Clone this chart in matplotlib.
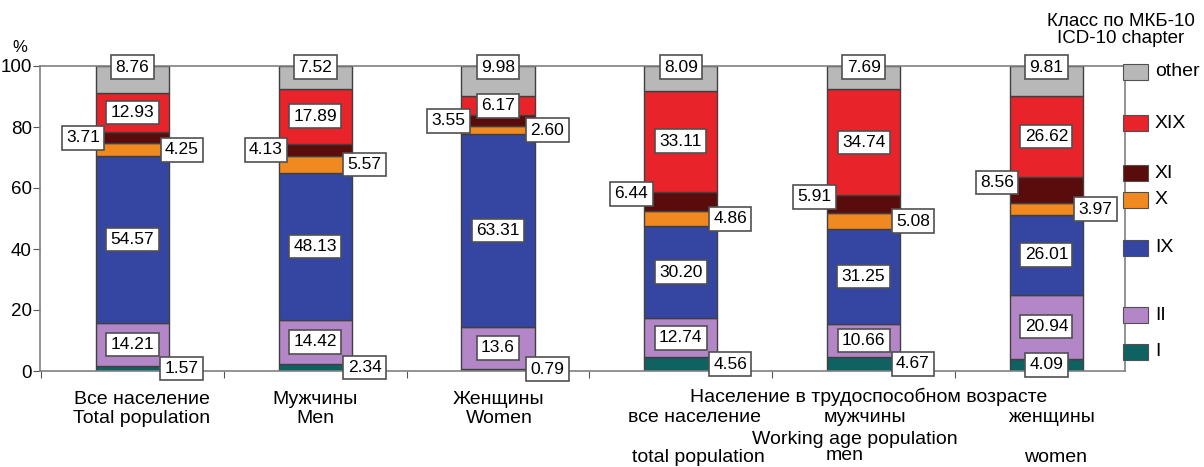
import numpy as np
import matplotlib
matplotlib.use('Agg')
import matplotlib.pyplot as plt
from matplotlib.patches import Rectangle

plt.rcParams['font.family'] = ['Liberation Sans', 'DejaVu Sans']

# shares of deaths by ICD-10 chapter, % (stack order bottom -> top)
groups = ['Total', 'Men', 'Women', 'WA total', 'WA men', 'WA women']
chapters = ['I', 'II', 'IX', 'X', 'XI', 'XIX', 'other']
val_I = ['1.57', '2.34', '0.79', '4.56', '4.67', '4.09']
val_II = ['14.21', '14.42', '13.6', '12.74', '10.66', '20.94']
val_IX = ['54.57', '48.13', '63.31', '30.20', '31.25', '26.01']
val_X = ['4.25', '5.57', '2.60', '4.86', '5.08', '3.97']
val_XI = ['3.71', '4.13', '3.55', '6.44', '5.91', '8.56']
val_XIX = ['12.93', '17.89', '6.17', '33.11', '34.74', '26.62']
val_other = ['8.76', '7.52', '9.98', '8.09', '7.69', '9.81']
series = [val_I, val_II, val_IX, val_X, val_XI, val_XIX, val_other]

colors = ['#0e6262', '#b386c8', '#3545a2', '#f08a20', '#5a0b0b', '#e8232a', '#b8b8b8']

W, H = 1204, 467
fig = plt.figure(figsize=(W / 100, H / 100), dpi=100)


def px(x, y):
    return x / W, 1 - y / H


ax = fig.add_axes([40 / W, 1 - 371 / H, (1125 - 40) / W, (371 - 66) / H])

x = np.arange(len(groups))
bw = 0.40
bottom = np.zeros(len(groups))
box = dict(boxstyle='square,pad=0.25', fc='white', ec='#505050', lw=1.2)
for ch, vals, col in zip(chapters, series, colors):
    v = np.array(vals, dtype=float)
    ax.bar(x, v, bw, bottom=bottom, color=col, edgecolor='#404040', lw=1.0, zorder=2)
    mid = bottom + v / 2
    for i in range(len(groups)):
        tx, ty = x[i], mid[i]
        if ch == 'I':
            tx = x[i] if i == len(groups) - 1 else x[i] + 0.27
            ty = max(mid[i], 0.6)
        elif ch == 'X':
            tx = x[i] + 0.27
        elif ch == 'XI':
            tx = x[i] - 0.27
            if i >= 3:
                ty = mid[i] + 2.5
        elif ch == 'other':
            ty = 99.6
        ax.text(tx, ty, vals[i], ha='center', va='center', fontsize=12.5,
                bbox=box, zorder=5)
    bottom = bottom + v

ax.set_xlim(-0.506, 5.43)
ax.set_ylim(0, 100)
ax.set_yticks(range(0, 101, 20))
ax.set_xticks(np.arange(-0.5, 5, 1.0))
ax.set_xticklabels([])
ax.tick_params(axis='y', labelsize=13.5, length=5, color='#555555', pad=1)
ax.tick_params(axis='x', length=5, color='#555555')
for s in ax.spines.values():
    s.set_color('#808080')
    s.set_linewidth(1.2)

fig.text(*px(20, 47), '%', ha='center', va='center', fontsize=12)

# legend, drawn by hand to keep the uneven spacing
leg_y = [352, 315, 248, 200, 173, 123, 72]
for ch, col, ly in zip(chapters, colors, leg_y):
    fx, fy = px(1123, ly + 8)
    fig.add_artist(Rectangle((fx, fy), 25 / W, 16 / H, transform=fig.transFigure,
                             fc=col, ec='#505050', lw=0.8))
    fig.text(*px(1155, ly), ch, ha='left', va='center', fontsize=14)
fig.text(*px(1121, 30), 'Класс по МКБ-10\nICD-10 chapter', ha='center',
         va='center', fontsize=13.5, linespacing=1.05)

# category captions
fs = 14
fig.text(*px(142, 409), 'Все население\nTotal population', ha='center',
         va='center', fontsize=fs, linespacing=1.1)
fig.text(*px(315, 409), 'Мужчины\nMen', ha='center', va='center',
         fontsize=fs, linespacing=1.1)
fig.text(*px(499, 409), 'Женщины\nWomen', ha='center', va='center',
         fontsize=fs, linespacing=1.1)
fig.text(*px(869, 397), 'Население в трудоспособном возрасте', ha='center',
         va='center', fontsize=fs)
fig.text(*px(695, 418), 'все население', ha='center', va='center', fontsize=fs)
fig.text(*px(865, 418), 'мужчины', ha='center', va='center', fontsize=fs)
fig.text(*px(1052, 418), 'женщины', ha='center', va='center', fontsize=fs)
fig.text(*px(855, 440), 'Working age population', ha='center', va='center',
         fontsize=fs)
fig.text(*px(698, 457), 'total population', ha='center', va='center', fontsize=fs)
fig.text(*px(845, 456), 'men', ha='center', va='center', fontsize=fs)
fig.text(*px(1056, 457), 'women', ha='center', va='center', fontsize=fs)

fig.savefig('out.png', dpi=100)
